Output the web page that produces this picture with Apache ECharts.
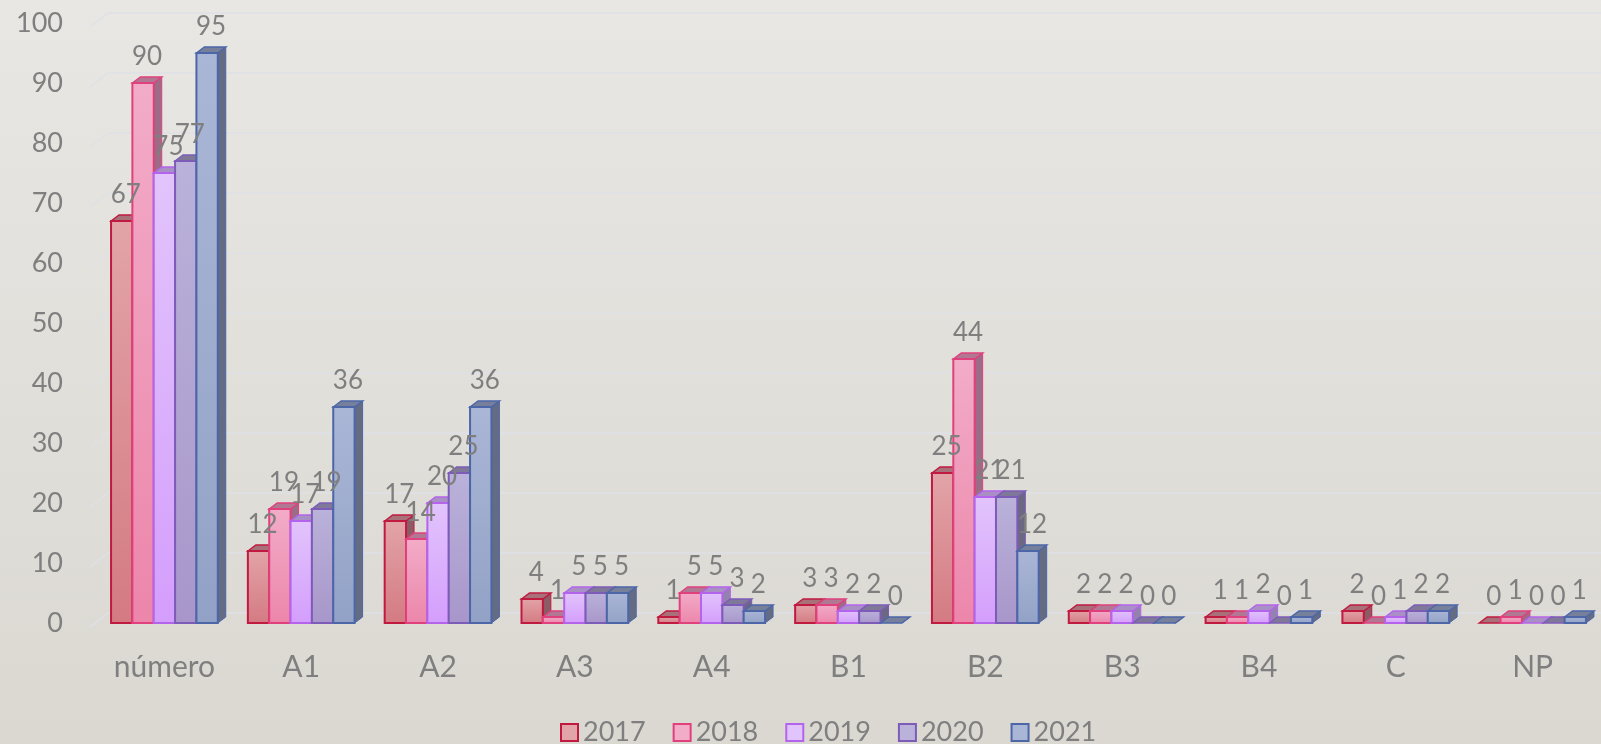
<!DOCTYPE html>
<html>
<head>
<meta charset="utf-8">
<script src="https://cdn.jsdelivr.net/npm/echarts@6/dist/echarts.min.js"></script>
<style>
  html, body { margin: 0; padding: 0; }
  #chart { width: 1601px; height: 744px; }
</style>
</head>
<body>
<div id="chart"></div>
<script>
  var categories = ['número', 'A1', 'A2', 'A3', 'A4', 'B1', 'B2', 'B3', 'B4', 'C', 'NP'];
  var years = ['2017', '2018', '2019', '2020', '2021'];
  var s2017 = [67, 12, 17, 4, 1, 3, 25, 2, 1, 2, 0];
  var s2018 = [90, 19, 14, 1, 5, 3, 44, 2, 1, 0, 1];
  var s2019 = [75, 17, 20, 5, 5, 2, 21, 2, 2, 1, 0];
  var s2020 = [77, 19, 25, 5, 3, 2, 21, 0, 0, 2, 0];
  var s2021 = [95, 36, 36, 5, 2, 0, 12, 0, 1, 2, 1];
  var yTicks = [0, 10, 20, 30, 40, 50, 60, 70, 80, 90, 100];

  var allSeries = [s2017, s2018, s2019, s2020, s2021];

  // front gradient (top, bottom), border, side face, top face
  var pal = [
    { t: '#e2a4a8', b: '#d47a82', border: '#c01a40', side: '#8c5c66', topFace: '#a87078' },
    { t: '#f2acc8', b: '#ec86aa', border: '#e0407c', side: '#9c6c86', topFace: '#b07892' },
    { t: '#e2c4fc', b: '#d49efc', border: '#b464ec', side: '#9482ae', topFace: '#a890c4' },
    { t: '#bab2da', b: '#a896ca', border: '#7c5cb8', side: '#6c6884', topFace: '#807898' },
    { t: '#aab6d6', b: '#92a2c6', border: '#4c66a8', side: '#646c84', topFace: '#76809a' }
  ];

  var DX = 8, DY = -6;
  var fontFam = 'Lato, "Open Sans", sans-serif';
  var gridColor = 'rgba(222,224,230,0.75)';

  function makeRender(k) {
    return function (params, api) {
      var cat = api.value(0), val = api.value(1);
      var base = api.coord([cat, 0]);
      var top = api.coord([cat, val]);
      var band = api.size([1, 0])[0];
      var bw = band * 0.78 / 5;
      var x0 = base[0] - band * 0.39 + k * bw;
      var yb = base[1], yt = top[1];
      var st = pal[k];
      var kids = [];
      // side face
      kids.push({
        type: 'polygon',
        shape: { points: [[x0 + bw, yt], [x0 + bw + DX, yt + DY], [x0 + bw + DX, yb + DY], [x0 + bw, yb]] },
        style: { fill: st.side, stroke: st.border, lineWidth: 1 }
      });
      // top face
      kids.push({
        type: 'polygon',
        shape: { points: [[x0, yt], [x0 + DX, yt + DY], [x0 + bw + DX, yt + DY], [x0 + bw, yt]] },
        style: { fill: st.topFace, stroke: st.border, lineWidth: 1.5 }
      });
      if (yb - yt > 0.5) {
        kids.push({
          type: 'rect',
          shape: { x: x0, y: yt, width: bw, height: yb - yt },
          style: {
            fill: new echarts.graphic.LinearGradient(0, 0, 0, 1, [
              { offset: 0, color: st.t }, { offset: 1, color: st.b }
            ]),
            stroke: st.border, lineWidth: 2
          }
        });
      }
      kids.push({
        type: 'text',
        z2: 100,
        x: x0 + bw / 2 + DX / 2,
        y: yt + DY - 7,
        style: { text: String(val), fill: '#7f7f7f', font: '26px ' + fontFam, align: 'center', verticalAlign: 'bottom' }
      });
      return { type: 'group', children: kids };
    };
  }

  // diagonal lines of the side wall, one per tick
  function wallRender(params, api) {
    var v = api.value(1);
    var p = api.coord([0, v]);
    var x = params.coordSys.x;
    return {
      type: 'line',
      shape: { x1: x - 6, y1: p[1] + 4, x2: x + 12, y2: p[1] - 10 },
      style: { stroke: gridColor, lineWidth: 2 }
    };
  }

  var series = allSeries.map(function (arr, k) {
    return {
      name: years[k],
      type: 'custom',
      xAxisIndex: 0,
      yAxisIndex: 0,
      renderItem: makeRender(k),
      itemStyle: { color: pal[k].t, borderColor: pal[k].border, borderWidth: 2 },
      encode: { x: 0, y: 1 },
      data: arr.map(function (v, i) { return [i, v]; })
    };
  });
  series.unshift({
    type: 'custom',
    name: 'wall',
    xAxisIndex: 0,
    yAxisIndex: 0,
    z: 1,
    silent: true,
    renderItem: wallRender,
    encode: { x: 0, y: 1 },
    data: yTicks.map(function (v) { return [0, v]; })
  });

  var chart = echarts.init(document.getElementById('chart'));
  chart.setOption({
    animation: false,
    backgroundColor: new echarts.graphic.LinearGradient(0, 0, 0, 1, [
      { offset: 0, color: '#e8e7e3' },
      { offset: 1, color: '#dbd8d2' }
    ]),
    textStyle: { fontFamily: fontFam },
    grid: [
      { left: 96, right: -7, top: 23, bottom: 121 },
      { left: 108, right: 0, top: 13, bottom: 131 }
    ],
    legend: {
      data: years,
      bottom: -7,
      left: 555,
      icon: 'rect',
      itemWidth: 17,
      itemHeight: 17,
      itemGap: 27,
      textStyle: { color: '#7f7f7f', fontSize: 27 }
    },
    xAxis: [
      {
        type: 'category',
        gridIndex: 0,
        data: categories,
        axisLine: { show: false },
        axisTick: { show: false },
        axisLabel: { color: '#7f7f7f', fontSize: 30, margin: 29 }
      },
      { type: 'value', gridIndex: 1, show: false }
    ],
    yAxis: [
      {
        type: 'value',
        gridIndex: 0,
        min: 0, max: 100, interval: 10,
        axisLine: { show: false },
        axisTick: { show: false },
        splitLine: { show: false },
        axisLabel: { color: '#7f7f7f', fontSize: 27, margin: 33 }
      },
      {
        type: 'value',
        gridIndex: 1,
        min: 0, max: 100, interval: 10,
        axisLine: { show: false },
        axisTick: { show: false },
        axisLabel: { show: false },
        splitLine: { show: true, lineStyle: { color: gridColor, width: 2 } }
      }
    ],
    series: series
  });
</script>
</body>
</html>
